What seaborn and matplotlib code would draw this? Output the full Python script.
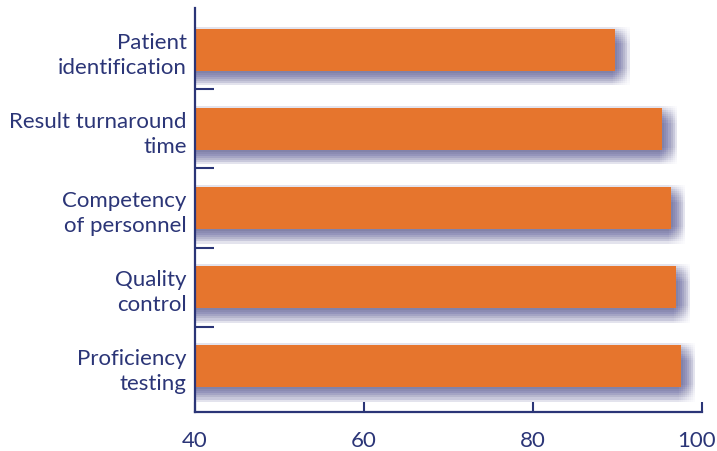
import matplotlib
matplotlib.use("Agg")
import matplotlib.pyplot as plt
import matplotlib.patheffects as pe
import matplotlib.transforms as mtransforms
from matplotlib.ticker import FixedLocator
import seaborn as sns
import pandas as pd

categories = ["Patient\nidentification", "Result turnaround\ntime",
              "Competency\nof personnel", "Quality\ncontrol", "Proficiency\ntesting"]
values = [89.7, 95.3, 96.3, 96.9, 97.5]
xticks = [40, 60, 80, 100]

NAVY = "#2B3577"
ORANGE = "#E6752D"

sns.set_theme(style="white")
plt.rcParams["font.family"] = ["Lato", "DejaVu Sans"]

df = pd.DataFrame({"category": categories, "value": values})

fig = plt.figure(figsize=(7.17, 4.52), dpi=100)
ax = fig.add_axes([0.272, 0.0863, 0.707, 0.894])

sns.barplot(data=df, x="value", y="category", orient="h", color=ORANGE,
            width=0.53, saturation=1, ax=ax, zorder=3)

effects = []
steps = [-1.5, 0.0, 1.5, 3.0, 4.5, 6.0, 7.5, 9.0, 10.5]
for dx in steps:
    for dy in steps:
        effects.append(pe.SimplePatchShadow(offset=(dx, -dy), shadow_rgbFace="#63639E", alpha=0.018))
effects.append(pe.Normal())
for p in ax.patches:
    p.set_edgecolor("none")
    p.set_path_effects(effects)

ax.set_xlim(40, 100)
ax.set_ylim(4.58, -0.53)
ax.set_xticks(xticks)
ax.set_xticklabels([str(t) for t in xticks])
ax.set_xlabel("")
ax.set_ylabel("")

for s in ("top", "right"):
    ax.spines[s].set_visible(False)
for s in ("left", "bottom"):
    ax.spines[s].set_color(NAVY)
    ax.spines[s].set_linewidth(1.6)
    ax.spines[s].set_zorder(5)

ax.tick_params(axis="x", direction="in", length=7.5, width=1.5, color=NAVY,
               labelcolor=NAVY, labelsize=16, pad=13, bottom=True)
ax.tick_params(axis="y", which="major", length=0, labelcolor=NAVY, labelsize=16, pad=6)
ax.yaxis.set_minor_locator(FixedLocator([0.5, 1.5, 2.5, 3.5]))
ax.tick_params(axis="y", which="minor", direction="in", length=13.5, width=1.5,
               color=NAVY, left=True)
for lab in ax.get_yticklabels():
    lab.set_linespacing(1.3)
    lab.set_horizontalalignment("right")
    lab.set_multialignment("right")

xl = ax.get_xticklabels()
xl[-1].set_transform(xl[-1].get_transform() +
                     mtransforms.ScaledTranslation(-5 / 100, 0, fig.dpi_scale_trans))

fig.savefig("out.png", dpi=100)
